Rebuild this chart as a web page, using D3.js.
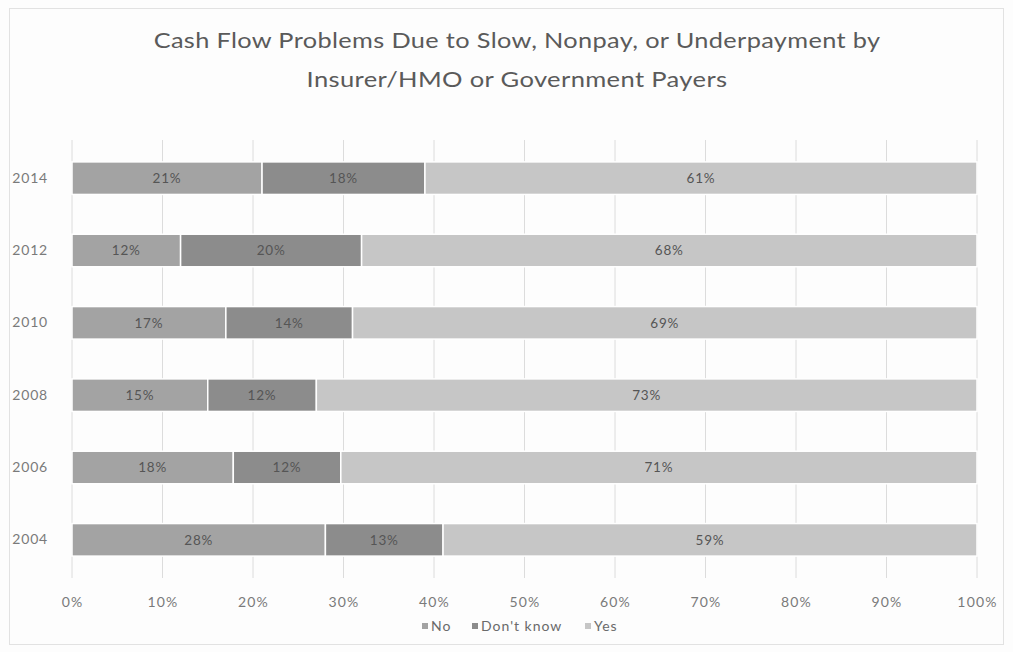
<!DOCTYPE html>
<html>
<head>
<meta charset="utf-8">
<script src="https://cdn.jsdelivr.net/npm/d3@7"></script>
<style>
  html, body { margin: 0; padding: 0; background: #ffffff; }
  svg { display: block; }
</style>
</head>
<body>
<svg id="chart" width="1013" height="652"></svg>
<script>
// Survey years, top to bottom
const years = ["2014", "2012", "2010", "2008", "2006", "2004"];
// Share of respondents per answer (percent)
const noValues       = [21, 12, 17, 15, 18, 28];
const dontKnowValues = [18, 20, 14, 12, 12, 13];
const yesValues      = [61, 68, 69, 73, 71, 59];
const seriesNames = ["No", "Don't know", "Yes"];
const xTicks = [0, 0.1, 0.2, 0.3, 0.4, 0.5, 0.6, 0.7, 0.8, 0.9, 1];
const titleLines = [
  "Cash Flow Problems Due to Slow, Nonpay, or Underpayment by",
  "Insurer/HMO or Government Payers"
];

const colors = { "No": "#a3a3a3", "Don't know": "#8c8c8c", "Yes": "#c6c6c6" };
const font = "Lato, 'Open Sans', sans-serif";

const rows = years.map((y, i) => ({
  year: y, "No": noValues[i], "Don't know": dontKnowValues[i], "Yes": yesValues[i]
}));

const svg = d3.select("#chart");
const W = 1013, H = 652;
const margin = { left: 72, right: 36, top: 142, bottom: 76 };

svg.append("rect").attr("width", W).attr("height", H).attr("fill", "#fdfdfd");
svg.append("rect")
  .attr("x", 9.5).attr("y", 8.5).attr("width", W - 19).attr("height", H - 16)
  .attr("fill", "none").attr("stroke", "#e2e2e2");

// Title: set in a wide face, so each line is stretched horizontally to its set width
const titleWidths = [727, 421];
titleLines.forEach((line, i) => {
  const tg = svg.append("g");
  const t = tg.append("text")
    .attr("x", 0).attr("y", 0)
    .attr("text-anchor", "middle")
    .attr("font-family", font).attr("font-size", 21)
    .attr("letter-spacing", 0.3)
    .attr("fill", "#5a5a5a")
    .text(line);
  const sx = titleWidths[i] / t.node().getComputedTextLength();
  tg.attr("transform", `translate(517,${48 + i * 39}) scale(${sx},1)`);
});

const x = d3.scaleLinear().domain([0, 1]).range([margin.left, W - margin.right]);
const y = d3.scaleBand().domain(years)
  .range([margin.top, H - margin.bottom]).paddingInner(0.55).paddingOuter(0.275);

// Vertical gridlines
svg.append("g").selectAll("line").data(xTicks).join("line")
  .attr("x1", d => x(d)).attr("x2", d => x(d))
  .attr("y1", margin.top - 2).attr("y2", H - margin.bottom + 2)
  .attr("stroke", "#dcdcdc").attr("stroke-width", 1);

// 100% stacked bars
const stack = d3.stack().keys(seriesNames).offset(d3.stackOffsetExpand);
const layers = stack(rows);

const g = svg.append("g");
layers.forEach(layer => {
  const key = layer.key;
  const grp = g.append("g");
  grp.selectAll("rect").data(layer).join("rect")
    .attr("x", d => x(d[0]))
    .attr("y", d => y(d.data.year))
    .attr("width", d => x(d[1]) - x(d[0]))
    .attr("height", y.bandwidth())
    .attr("fill", colors[key])
    .attr("stroke", "#ffffff").attr("stroke-width", 1.5);
  grp.selectAll("text").data(layer).join("text")
    .attr("x", d => (x(d[0]) + x(d[1])) / 2)
    .attr("y", d => y(d.data.year) + y.bandwidth() / 2)
    .attr("dy", "0.35em")
    .attr("text-anchor", "middle")
    .attr("font-family", font).attr("font-size", 13.5)
    .attr("letter-spacing", 0.8)
    .attr("fill", "#555555")
    .text(d => d.data[key] + "%");
});

// Category labels
const yAxis = svg.append("g")
  .attr("transform", `translate(${margin.left},0)`)
  .call(d3.axisLeft(y).tickSize(0).tickPadding(24));
yAxis.select(".domain").remove();
yAxis.selectAll("text")
  .attr("font-family", font).attr("font-size", 14).attr("letter-spacing", 0.8)
  .attr("fill", "#7a7a7a");

// Percent axis
const xAxis = svg.append("g")
  .attr("transform", `translate(0,${H - margin.bottom})`)
  .call(d3.axisBottom(x).tickValues(xTicks).tickFormat(d3.format(".0%")).tickSize(0).tickPadding(21));
xAxis.select(".domain").remove();
xAxis.selectAll("text")
  .attr("font-family", font).attr("font-size", 14).attr("letter-spacing", 1.2)
  .attr("fill", "#7a7a7a");

// Legend
const legend = svg.append("g").attr("transform", "translate(0,626)");
const legendX = [422, 472, 585];
seriesNames.forEach((name, i) => {
  legend.append("rect")
    .attr("x", legendX[i]).attr("y", -3).attr("width", 6).attr("height", 6)
    .attr("fill", colors[name]);
  legend.append("text")
    .attr("x", legendX[i] + 9).attr("y", 0).attr("dy", "0.35em")
    .attr("font-family", font).attr("font-size", 14).attr("letter-spacing", 1)
    .attr("fill", "#6a6a6a")
    .text(name);
});
</script>
</body>
</html>
